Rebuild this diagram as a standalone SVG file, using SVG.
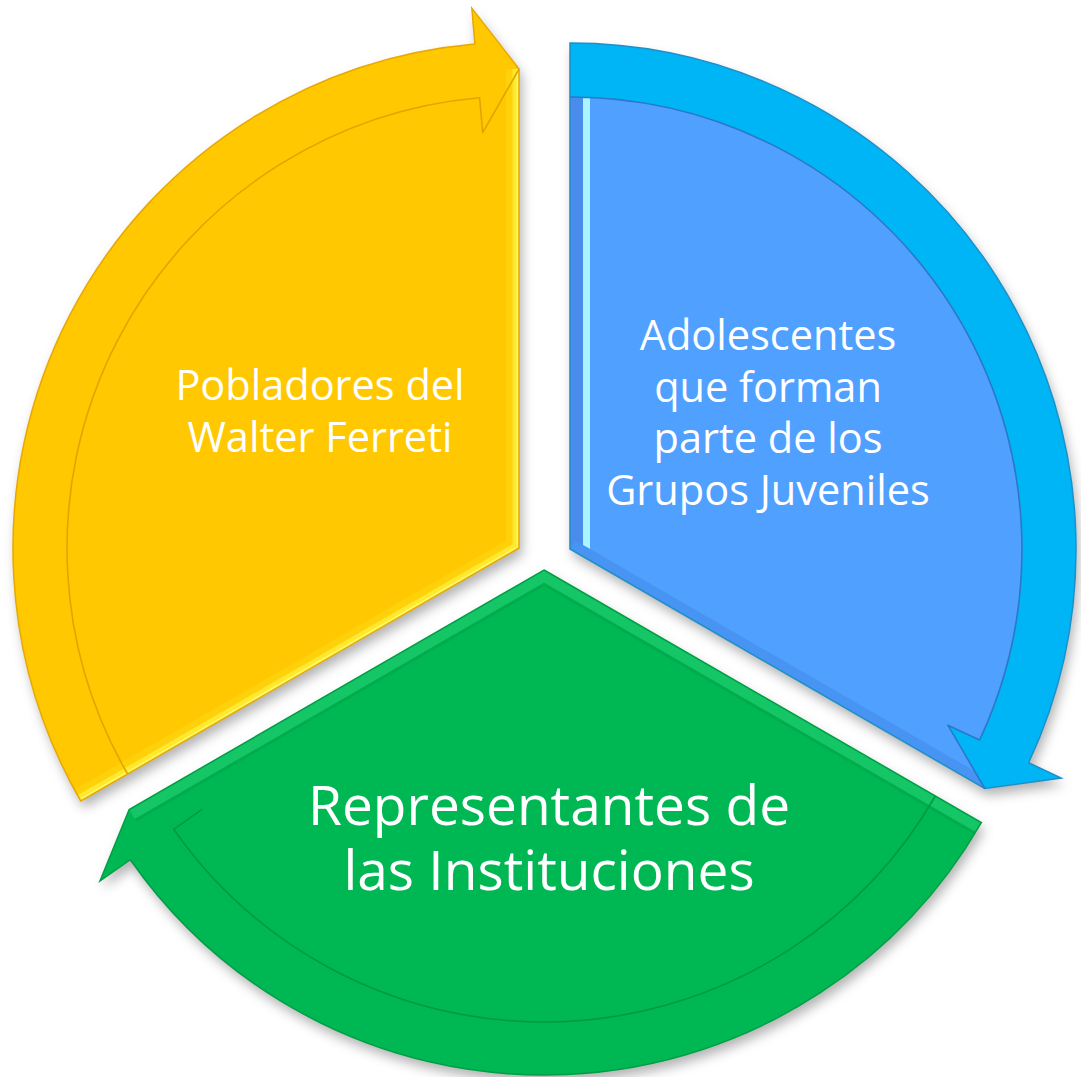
<svg xmlns="http://www.w3.org/2000/svg" width="1081" height="1077" viewBox="0 0 1081 1077">
<style>
.lbl{font-family:"Open Sans","Noto Sans","Liberation Sans",sans-serif;fill:#FFFFFF;text-anchor:middle}
.sm{font-size:41.5px}
.lg{font-size:55px}
.thin{fill:none;stroke-width:1.6;stroke-linejoin:round}
</style>
<defs>
<filter id="sh" x="-10%" y="-10%" width="120%" height="120%">
<feDropShadow dx="3" dy="7" stdDeviation="6" flood-color="#000000" flood-opacity="0.3"/>
</filter>
<path id="yShape" d="M519,548 L80.8,801 A506,506 0 0 1 474.9,43.9 L471.8,8.1 L519,69 Z"/>
<path id="bShape" d="M570,549 L570,43 A506,506 0 0 1 1028.6,762.8 L1061.2,778.1 L984.8,788.5 Z"/>
<path id="bInner" d="M570,549 L570,97 A452,452 0 0 1 979.6,740 L947.9,725.2 L984.8,788.5 Z"/>
<path id="gShape" d="M544,570 L981.3,822.5 A505,505 0 0 1 130.3,859.7 L100,880.9 L129.2,809.5 Z"/>
<clipPath id="yClip"><use href="#yShape"/></clipPath>
<clipPath id="bClip"><use href="#bInner"/></clipPath>
<clipPath id="gClip"><use href="#gShape"/></clipPath>
</defs>

<g id="node-yellow">
<use href="#yShape" fill="#FFC800" filter="url(#sh)"/>
<g clip-path="url(#yClip)">
<path d="M519,69 L519,548 L80.8,801" fill="none" stroke="#FFD10A" stroke-width="26"/>
<path d="M519,69 L519,548 L80.8,801" fill="none" stroke="#FFE830" stroke-width="13"/>
<path d="M519,69 L519,548 L80.8,801" fill="none" stroke="#FFFA60" stroke-width="5"/>
</g>
<use href="#yShape" fill="none" stroke="#E8A800" stroke-width="1.5"/>
<path class="thin" d="M127.6,774 A452,452 0 0 1 479.6,97.7 L482.7,132.6 L519,69" stroke="#E0A500"/>
<text class="lbl sm" x="320" y="400">Pobladores del</text>
<text class="lbl sm" x="320" y="452">Walter Ferreti</text>
</g>

<g id="node-blue">
<use href="#bShape" fill="#00B5F5" filter="url(#sh)"/>
<use href="#bInner" fill="#50A0FF"/>
<g clip-path="url(#bClip)">
<path d="M570,60 L570,549" fill="none" stroke="#A8F4FF" stroke-width="40"/>
<path d="M570,60 L570,549" fill="none" stroke="#4A8CEB" stroke-width="26"/>
<path d="M570,549 L984.8,788.5" fill="none" stroke="#4894F2" stroke-width="20"/>
</g>
<use href="#bShape" fill="none" stroke="#1E8FC8" stroke-width="1.5"/>
<path class="thin" d="M570,97 A452,452 0 0 1 979.6,740 L947.9,725.2 L984.8,788.5" stroke="#2A78C8"/>
<text class="lbl sm" x="768" y="350">Adolescentes</text>
<text class="lbl sm" x="768" y="402">que forman</text>
<text class="lbl sm" x="768" y="453">parte de los</text>
<text class="lbl sm" x="768" y="505">Grupos Juveniles</text>
</g>

<g id="node-green">
<use href="#gShape" fill="#00B853" filter="url(#sh)"/>
<g clip-path="url(#gClip)">
<path d="M129.2,809.5 L544,570 L981.3,822.5" fill="none" stroke="#00AC4C" stroke-width="28"/>
<path d="M129.2,809.5 L544,570 L981.3,822.5" fill="none" stroke="#14C666" stroke-width="22"/>
</g>
<use href="#gShape" fill="none" stroke="#009E45" stroke-width="1.5"/>
<path class="thin" d="M935.4,796 A452,452 0 0 1 173.7,829.3 L202.4,809.2" stroke="#009A42"/>
<text class="lbl lg" x="549" y="825">Representantes de</text>
<text class="lbl lg" x="549" y="890">las Instituciones</text>
</g>

<g id="connectors"/>
</svg>
